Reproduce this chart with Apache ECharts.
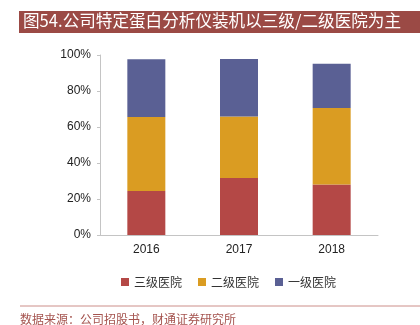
<!DOCTYPE html>
<html>
<head>
<meta charset="utf-8">
<script src="https://cdn.jsdelivr.net/npm/echarts@6/dist/echarts.min.js"></script>
<style>
  html, body { margin: 0; padding: 0; background: #fff; }
  #chart { width: 420px; height: 325px; }
</style>
</head>
<body>
<div id="chart"></div>
<script>
// Installed base of specific-protein analysers, share by hospital tier
const years = ['2016', '2017', '2018'];
const tier3 = [24.4, 31.7, 28.1];   // 三级医院
const tier2 = [41.1, 34.2, 42.5];   // 二级医院
const tier1 = [32.2, 31.9, 24.6];   // 一级医院
const seriesNames = ['三级医院', '二级医院', '一级医院'];
const yTicks = [0, 20, 40, 60, 80, 100];

const colors = ['#B44846', '#DA9C22', '#5A6094'];
const values = [tier3, tier2, tier1];

const chart = echarts.init(document.getElementById('chart'), null, { renderer: 'canvas' });

chart.setOption({
  animation: false,
  color: colors,
  grid: { left: 100, right: 42, top: 55, bottom: 90 },
  legend: {
    left: 116,
    top: 271,
    icon: 'rect',
    itemWidth: 8,
    itemHeight: 8,
    itemGap: 16,
    textStyle: { fontSize: 12, color: '#333', fontFamily: 'Noto Sans CJK SC' },
    data: seriesNames
  },
  xAxis: {
    type: 'category',
    data: years,
    axisTick: { show: false },
    axisLine: { lineStyle: { color: '#c4c4c4' } },
    axisLabel: { color: '#222', fontSize: 12, margin: 9, fontFamily: 'Liberation Sans' }
  },
  yAxis: {
    type: 'value',
    min: yTicks[0],
    max: yTicks[yTicks.length - 1],
    interval: 20,
    splitLine: { show: false },
    axisLine: { show: true, lineStyle: { color: '#c4c4c4' } },
    axisTick: { show: true, length: 3, lineStyle: { color: '#c4c4c4' } },
    axisLabel: { color: '#222', fontSize: 12, margin: 9, formatter: '{value}%', fontFamily: 'Liberation Sans' }
  },
  series: seriesNames.map((name, i) => ({
    name: name,
    type: 'bar',
    stack: 'total',
    barWidth: 38,
    data: values[i],
    itemStyle: { color: colors[i] }
  })),
  graphic: [
    {
      type: 'rect',
      shape: { x: 19, y: 11, width: 401, height: 22 },
      style: { fill: '#9B4A45' }
    },
    {
      type: 'text',
      left: 23,
      top: 12,
      style: {
        text: '图54.公司特定蛋白分析仪装机以三级/二级医院为主',
        fill: '#fff',
        font: '16.6px "Noto Sans CJK SC"'
      }
    },
    {
      type: 'line',
      shape: { x1: 20, y1: 306, x2: 420, y2: 306 },
      style: { stroke: '#CC8E89', lineWidth: 1 }
    },
    {
      type: 'text',
      left: 20,
      top: 313,
      style: {
        text: '数据来源：公司招股书，财通证券研究所',
        fill: '#A5544F',
        font: '12px "Noto Sans CJK SC"'
      }
    }
  ]
});
</script>
</body>
</html>
